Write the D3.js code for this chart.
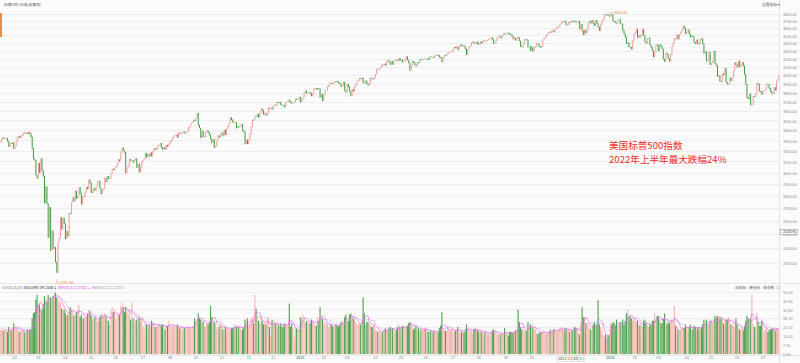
<html>
<head>
<script src="https://d3js.org/d3.v7.min.js"></script>
<style>
  body { margin: 0; background: #fff; }
  svg { display: block; font-family: "Noto Sans CJK SC", "Noto Sans", sans-serif; }
  .grid line { stroke: #eeeeee; shape-rendering: crispEdges; }
  .axis text { fill: #8a8a8a; font-size: 3.8px; }
  .axis path { display: none; }
</style>
</head>
<body>
<script>
// S&P 500 daily closes, one inner array per month (Jan 2020 starts on the 15th)
var close2020 = [
  [3289,3317,3330,3321,3321,3326,3295,3244,3276,3273,3284,3226],
  [3249,3298,3334,3345,3328,3352,3358,3379,3374,3380,3370,3386,3373,3338,3226,3128,3116,2979,2954],
  [3090,3003,3130,3024,2972,2747,2882,2741,2481,2711,2386,2529,2398,2409,2305,2237,2447,2476,2630,2541,2627,2585],
  [2470,2527,2489,2664,2660,2750,2790,2762,2846,2784,2800,2875,2823,2737,2799,2798,2837,2878,2863,2940,2912],
  [2831,2843,2868,2848,2881,2930,2930,2870,2820,2852,2864,2954,2922,2972,2949,2955,2992,3036,3030,3044],
  [3056,3080,3122,3112,3194,3232,3207,3190,3002,3041,3067,3125,3114,3115,3097,3118,3131,3050,3083,3009,3053,3100],
  [3116,3130,3180,3145,3170,3152,3185,3155,3197,3227,3216,3225,3251,3257,3276,3236,3216,3239,3218,3258,3246,3271],
  [3294,3306,3328,3349,3351,3360,3333,3380,3373,3373,3381,3389,3375,3385,3397,3431,3443,3478,3484,3508,3500],
  [3527,3580,3455,3427,3331,3398,3339,3341,3383,3401,3385,3357,3319,3281,3315,3237,3246,3298,3351,3335,3363],
  [3380,3348,3408,3361,3419,3446,3477,3534,3512,3489,3483,3484,3427,3443,3436,3453,3465,3401,3390,3271,3310,3270],
  [3310,3370,3443,3510,3509,3550,3545,3572,3537,3585,3627,3610,3568,3582,3558,3577,3636,3630,3638,3622],
  [3662,3669,3666,3699,3692,3702,3673,3668,3663,3647,3695,3702,3722,3709,3695,3687,3691,3703,3735,3727,3732,3756]
];
var close2021 = [
  [3701,3726,3748,3804,3825,3800,3801,3809,3795,3768,3799,3852,3853,3841,3855,3849,3751,3788,3714],
  [3774,3826,3830,3872,3887,3915,3911,3909,3916,3934,3932,3931,3913,3907,3876,3881,3925,3829,3811],
  [3901,3870,3819,3768,3842,3821,3875,3898,3939,3943,3969,3963,3974,3915,3913,3941,3910,3889,3910,3975,3971,3959,3973],
  [4020,4078,4074,4080,4097,4129,4128,4142,4124,4170,4185,4163,4135,4173,4135,4180,4188,4187,4184,4211,4181],
  [4193,4165,4168,4202,4233,4189,4153,4063,4113,4174,4163,4128,4116,4160,4156,4198,4188,4196,4201,4204],
  [4202,4208,4193,4230,4227,4227,4220,4239,4247,4255,4247,4224,4222,4166,4224,4246,4242,4266,4281,4291,4291,4298],
  [4320,4352,4343,4358,4320,4369,4385,4369,4374,4360,4327,4258,4323,4359,4368,4412,4422,4401,4400,4419,4395],
  [4387,4423,4402,4429,4437,4432,4436,4447,4460,4468,4479,4448,4400,4406,4442,4479,4486,4497,4470,4509,4529,4523],
  [4524,4537,4535,4520,4514,4493,4459,4469,4443,4481,4474,4433,4358,4354,4396,4449,4455,4443,4353,4360,4308],
  [4357,4300,4346,4363,4399,4391,4361,4350,4364,4438,4471,4486,4519,4537,4549,4545,4567,4575,4551,4597,4605],
  [4614,4631,4660,4680,4697,4701,4686,4646,4650,4683,4682,4701,4689,4704,4698,4683,4690,4701,4595,4655,4567],
  [4513,4577,4538,4592,4686,4701,4668,4712,4669,4635,4710,4669,4621,4568,4649,4697,4726,4791,4786,4793,4778,4766]
];
var close2022 = [
  [4797,4794,4701,4696,4677,4670,4713,4726,4660,4663,4577,4533,4483,4398,4410,4357,4350,4327,4432,4516],
  [4546,4589,4477,4501,4484,4521,4587,4504,4419,4402,4471,4475,4380,4349,4305,4226,4289,4385,4374],
  [4306,4387,4363,4329,4201,4171,4278,4260,4204,4173,4263,4358,4412,4463,4461,4512,4457,4520,4543,4576,4632,4603,4530],
  [4546,4583,4525,4481,4501,4488,4413,4397,4447,4393,4392,4463,4460,4394,4272,4297,4175,4184,4288,4132],
  [4155,4175,4301,4147,4123,3991,4001,3935,3930,4024,4008,4089,3924,3901,3901,3974,3941,3979,4058,4158,4132],
  [4101,4177,4109,4121,4161,4116,4018,3901,3750,3735,3790,3667,3675,3765,3760,3796,3912,3901,3821,3819,3785],
  [3825,3831,3845,3903,3899,3855,3819,3802,3791,3863,3831,3937,3959,3999]
];
var firstOpen = 3283;

// daily volume (same layout as the closes)
var vol2020 = [
  [20,19,21,19,20,19,18,22,20,19,21,25],
  [22,21,21,19,18,19,20,19,18,17,20,19,20,20,29,33,34,44,48],
  [41,40,36,37,41,47,44,42,48,45,46,44,47,49,50,46,45,43,41,37,35,36],
  [33,31,32,37,38,36,34,31,32,34,36,40,30,32,29,29,28,30,33,36,35],
  [31,28,29,30,29,27,27,30,32,33,30,33,31,28,27,24,35,38,34,36],
  [28,30,33,32,39,42,38,34,38,34,33,36,28,42,29,29,27,28,28,30,27,30],
  [23,20,25,24,21,24,22,27,26,25,22,22,24,24,23,23,24,21,20,23,23,27],
  [24,22,22,24,21,22,24,22,21,22,20,22,21,21,23,21,21,21,22,23,29],
  [27,29,33,29,28,26,26,22,23,25,24,26,39,30,27,26,25,22,20,22,25],
  [23,20,20,22,20,21,19,20,21,21,22,24,22,23,22,21,20,20,22,28,26,29],
  [23,25,29,30,25,48,37,30,27,25,30,27,24,25,24,28,30,22,14,28],
  [26,27,25,22,24,23,25,22,22,25,24,24,23,41,22,25,21,13,19,21,20,19]
];
var vol2021 = [
  [30,29,32,30,26,27,25,25,25,28,27,25,24,23,30,27,38,31,29],
  [26,24,26,25,22,24,24,23,22,22,24,23,22,24,26,27,25,30,32],
  [29,27,32,33,31,29,28,26,25,24,25,24,26,46,33,24,26,26,23,24,22,22,24],
  [20,19,18,19,18,17,18,20,21,20,19,21,22,20,21,19,18,20,22,24,22],
  [20,23,22,21,23,23,25,26,25,22,20,21,23,20,21,18,20,20,19,22],
  [20,19,18,18,19,18,18,19,18,17,18,21,23,34,21,19,19,19,23,19,19,21],
  [19,18,19,20,22,18,17,18,18,17,20,24,21,19,18,19,17,20,21,19,20],
  [18,19,18,18,16,18,18,16,16,16,18,19,20,19,17,16,16,16,16,17,16,21],
  [17,17,15,18,18,18,17,19,19,20,36,26,22,20,20,19,19,19,26,22,24],
  [22,22,20,20,17,16,17,18,18,18,18,16,17,17,18,20,18,19,20,20,19],
  [19,20,22,20,22,19,20,21,19,20,18,19,19,21,22,21,21,17,16,26,38],
  [30,30,25,24,23,21,20,20,24,26,24,24,44,24,22,19,16,14,16,13,15,15]
];
var vol2022 = [
  [25,24,26,25,23,28,23,24,26,25,28,24,27,33,36,30,31,29,27,29],
  [27,26,27,24,23,24,22,27,28,25,23,22,24,23,27,27,33,28,31],
  [31,28,25,25,29,33,26,24,26,25,28,28,26,39,23,23,20,20,20,21,22,21,24],
  [21,20,22,24,20,20,23,22,20,22,20,21,22,24,28,25,28,25,24,27],
  [28,25,28,31,29,31,30,29,29,28,25,24,28,28,30,27,24,24,23,22,29],
  [24,21,20,19,21,19,23,27,31,29,28,29,48,24,22,21,33,26,23,23,27],
  [22,18,20,21,18,19,20,20,21,22,19,21,20,19.2]
];

// month labels ("" = hidden: partial first month, and the two under the date box)
var monthLabels = [
  "", "02","03","04","05","06","07","08","09","10","11","12",
  "2021","02","03","04","05","06","07","08","09","10","","",
  "2022","02","03","04","05","06","07"
];
var priceTicks = [2300,2400,2500,2600,2700,2800,2900,3000,3100,3200,3300,3400,3500,3600,
                  3700,3800,3900,4000,4100,4200,4300,4400,4500,4600,4700,4800];
var volTickLabels = ["0.00","7.30","14.40","21.50","28.70","35.80","42.90","50.00"];
var highValue = 4818.62, lowValue = 2191.86;

// flatten months into one row per day
var closeMonths = close2020.concat(close2021, close2022);
var volMonths = vol2020.concat(vol2021, vol2022);
var rows = [], monthStarts = [];
closeMonths.forEach(function (m, mi) {
  monthStarts.push(rows.length);
  m.forEach(function (c, di) {
    var prev = rows.length ? rows[rows.length - 1].c : firstOpen;
    rows.push({ i: rows.length, o: prev, c: c, v: volMonths[mi][di] });
  });
});
var N = rows.length;

var W = 800, H = 363, plotRight = 779;
var svg = d3.select("body").append("svg").attr("width", W).attr("height", H);
svg.append("rect").attr("width", W).attr("height", H).attr("fill", "#fbfbfb");

var step = 1.2303;
var x = d3.scaleBand().domain(d3.range(N)).range([-0.4, -0.4 + N * step]).padding(0);
var y = d3.scaleLog().domain([2300, 4800]).range([263, 14]);
var yv = d3.scaleLinear().domain([0, 50]).range([354, 292.5]);

// gridlines
var grid = svg.append("g").attr("class", "grid");
grid.selectAll(".gp").data(priceTicks).enter().append("line")
  .attr("x1", 0).attr("x2", plotRight).attr("y1", d => y(d)).attr("y2", d => y(d));
grid.selectAll(".gv").data(volTickLabels).enter().append("line")
  .attr("x1", 0).attr("x2", plotRight).attr("y1", d => yv(+d)).attr("y2", d => yv(+d));

// panel frame lines
svg.append("line").attr("x1", plotRight + 0.5).attr("x2", plotRight + 0.5).attr("y1", 0).attr("y2", H)
  .attr("stroke", "#e3e3e3");
svg.append("line").attr("x1", 0).attr("x2", W).attr("y1", 283.5).attr("y2", 283.5).attr("stroke", "#e6e6e6");
svg.append("line").attr("x1", 0).attr("x2", W).attr("y1", 355.5).attr("y2", 355.5).attr("stroke", "#e6e6e6");
svg.append("rect").attr("x", 0).attr("y", 13).attr("width", 2).attr("height", 24).attr("fill", "#f08a3c");

var upCol = "#f19c9c", downCol = "#3d9c3d";

// candles (body from previous close to close)
svg.append("g").selectAll("rect").data(rows).enter().append("rect")
  .attr("x", d => x(d.i) + 0.1)
  .attr("width", 1.0)
  .attr("y", d => Math.min(y(d.o), y(d.c)) - 0.3)
  .attr("height", d => Math.max(0.9, Math.abs(y(d.o) - y(d.c)) + 0.6))
  .attr("fill", d => d.c >= d.o ? upCol : downCol);

// volume bars
svg.append("g").selectAll("rect").data(rows).enter().append("rect")
  .attr("x", d => x(d.i))
  .attr("width", x.bandwidth() * 0.92)
  .attr("y", d => yv(d.v))
  .attr("height", d => yv(0) - yv(d.v))
  .attr("fill", d => d.c >= d.o ? "#f3b7b2" : "#4ea34b");

// volume moving averages
function maLine(n, color) {
  var pts = rows.filter(d => d.i >= n - 1).map(function (d) {
    return { i: d.i, m: d3.mean(rows.slice(d.i - n + 1, d.i + 1), r => r.v) };
  });
  svg.append("path").datum(pts)
    .attr("fill", "none").attr("stroke", color).attr("stroke-width", 0.6)
    .attr("d", d3.line().x(d => x(d.i) + x.bandwidth() / 2).y(d => yv(d.m)));
}
maLine(10, "#c9a6e6");
maLine(5, "#ee55ee");

// right price axis
var yAxis = d3.axisRight(y).tickValues(priceTicks).tickSize(0).tickPadding(0)
  .tickFormat(d3.format(".2f"));
svg.append("g").attr("class", "axis").attr("transform", "translate(783,0)").call(yAxis);

// right volume axis
var vAxis = d3.axisRight(yv).tickValues(volTickLabels.map(Number)).tickSize(0).tickPadding(0)
  .tickFormat((d, k) => volTickLabels[k]);
svg.append("g").attr("class", "axis").attr("transform", "translate(783,0)").call(vAxis);

// bottom month axis
var labelAt = {};
monthStarts.forEach((s, k) => labelAt[s] = monthLabels[k]);
var xAxis = d3.axisBottom(x).tickValues(monthStarts.filter((s, k) => monthLabels[k] !== ""))
  .tickSize(0).tickPadding(1.5).tickFormat(i => labelAt[i]);
var xg = svg.append("g").attr("class", "axis").attr("transform", "translate(0,355)").call(xAxis);
xg.selectAll("text").filter(function () { return this.textContent.length === 4; })
  .attr("fill", "#444").attr("font-weight", "bold");

// high / low marks
var hiIdx = d3.maxIndex(rows, d => d.c), loIdx = d3.minIndex(rows, d => d.c);
var hx = x(hiIdx) + 0.6, lx = x(loIdx) + 0.6;
svg.append("path").attr("d", "M" + hx + "," + y(highValue) + "h3").attr("stroke", "#f08a3c").attr("stroke-width", 0.5);
svg.append("text").attr("x", hx + 3.5).attr("y", y(highValue) + 1.3).attr("font-size", 3.8)
  .attr("fill", "#f08a3c").text(highValue.toFixed(2));
svg.append("path").attr("d", "M" + lx + "," + y(lowValue) + "v3h2.5").attr("fill", "none")
  .attr("stroke", "#f08a3c").attr("stroke-width", 0.5);
svg.append("text").attr("x", lx + 3).attr("y", y(lowValue) + 4.3).attr("font-size", 3.8)
  .attr("fill", "#f08a3c").text(lowValue.toFixed(2));

// titles and legends
svg.append("text").attr("x", 4).attr("y", 5.5).attr("font-size", 3.8).attr("fill", "#555")
  .text("标普500 (日线,前复权)");
svg.append("text").attr("x", 762).attr("y", 5.5).attr("font-size", 3.8).attr("fill", "#555")
  .text("设置指标 ▾");

var leg = svg.append("text").attr("x", 2).attr("y", 289).attr("font-size", 3.8);
leg.append("tspan").attr("fill", "#777").text("⊡ VOL(5,10) ");
leg.append("tspan").attr("fill", "#222").text("VOLUME:19.2160↓  ");
leg.append("tspan").attr("fill", "#e040e0").text("MAVOL1:22.0152↓  ");
leg.append("tspan").attr("fill", "#9a8aa8").text("MAVOL2:22.1210↑");

["加指标", "换指标", "修参数"].forEach(function (t, k) {
  svg.append("text").attr("x", 735 + k * 14).attr("y", 289).attr("font-size", 3.8)
    .attr("fill", "#666").text(t);
});
svg.append("rect").attr("x", 777).attr("y", 286).attr("width", 3).attr("height", 3)
  .attr("fill", "none").attr("stroke", "#aaa").attr("stroke-width", 0.4);

// crosshair labels
svg.append("rect").attr("x", 780.5).attr("y", 229.5).attr("width", 17).attr("height", 5)
  .attr("fill", "#fff").attr("stroke", "#666").attr("stroke-width", 0.4);
svg.append("text").attr("x", 783).attr("y", 233.3).attr("font-size", 3.8).attr("fill", "#222")
  .text("2510.92");
svg.append("rect").attr("x", 557).attr("y", 356).attr("width", 28).attr("height", 5.5)
  .attr("fill", "#fff").attr("stroke", "#bbb").attr("stroke-width", 0.4);
svg.append("text").attr("x", 571).attr("y", 360.2).attr("font-size", 3.8).attr("fill", "#444")
  .attr("text-anchor", "middle").text("2021/11/03(三)");

// red annotation
svg.append("text").attr("x", 609).attr("y", 148.5).attr("font-size", 9.6).attr("fill", "#f22c2c")
  .text("美国标普500指数");
svg.append("text").attr("x", 609).attr("y", 162.5).attr("font-size", 9.6).attr("fill", "#f22c2c")
  .text("2022年上半年最大跌幅24%");
</script>
</body>
</html>
